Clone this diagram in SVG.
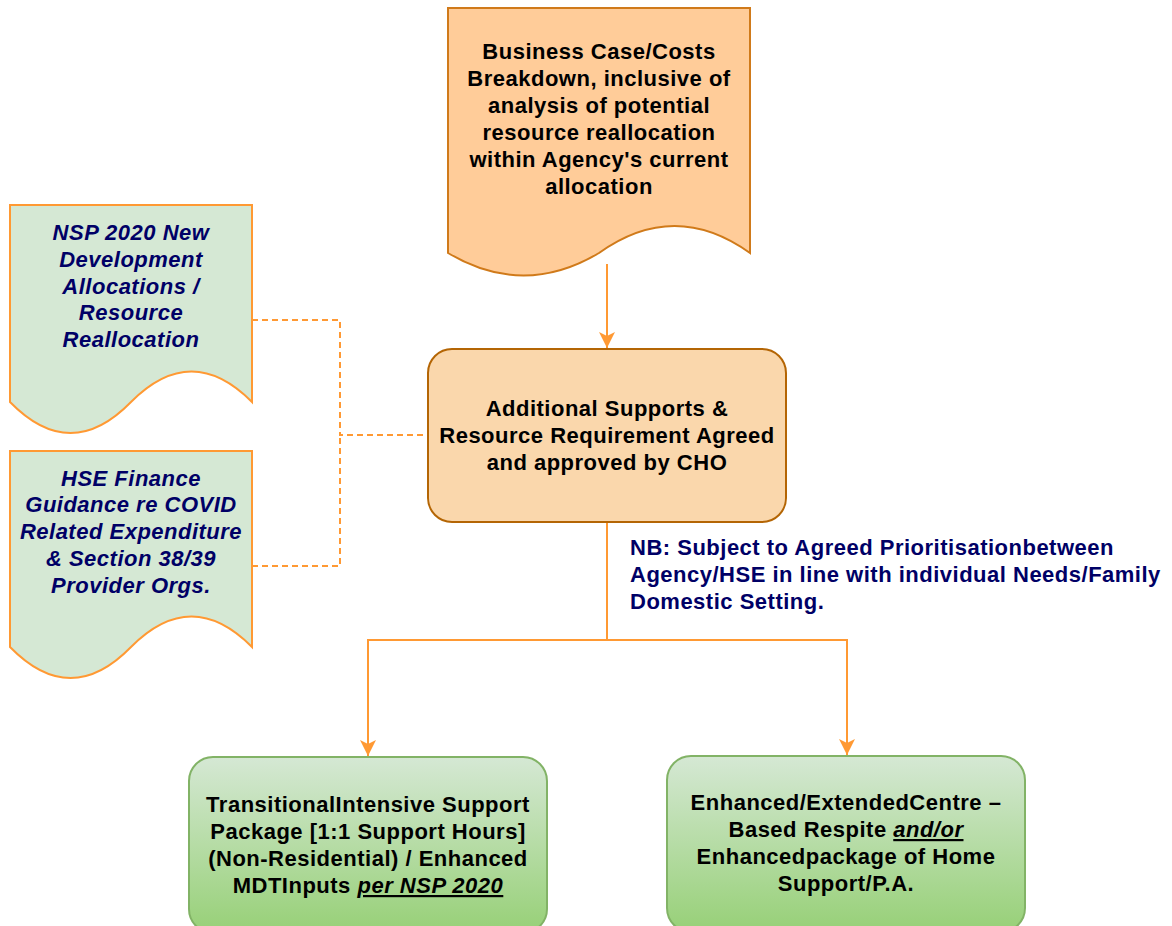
<svg xmlns="http://www.w3.org/2000/svg" width="1172" height="926" viewBox="0 0 1172 926">
<style>
text{font-family:"Liberation Sans",Arial,sans-serif;font-size:22px;letter-spacing:0.5px;font-weight:bold;text-anchor:middle;fill:#000}
.blue{fill:#000066;font-style:italic}
.nb{fill:#000066;text-anchor:start}
.it{font-style:italic;text-decoration:underline}
.conn{fill:none;stroke:#ff9933;stroke-width:2}
.dash{fill:none;stroke:#ff9933;stroke-width:2;stroke-dasharray:6 4}
.gdoc{fill:#d5e8d4;stroke:#ff9933;stroke-width:2}
</style>
<defs>
<linearGradient id="gg" x1="0" y1="0" x2="0" y2="1">
<stop offset="0" stop-color="#d5e8d4"/>
<stop offset="1" stop-color="#97d077"/>
</linearGradient>
<marker id="ah" markerWidth="18" markerHeight="18" refX="16" refY="8" orient="auto" markerUnits="userSpaceOnUse">
<path d="M0,0 L16,8 L0,16 L4,8 Z" fill="#ff9933"/>
</marker>
</defs>
<g id="connectors">
<path class="conn" d="M607,264 L607,348" marker-end="url(#ah)"/>
<path class="conn" d="M607,522 L607,640 L368,640 L368,756" marker-end="url(#ah)"/>
<path class="conn" d="M607,640 L847,640 L847,755" marker-end="url(#ah)"/>
<path class="dash" d="M252,320 L340,320 L340,435 L428,435"/>
<path class="dash" d="M252,566 L340,566 L340,435"/>
</g>
<g id="business-case">
<path d="M448,8 L750,8 L750,253 Q674.5,199 599,253 Q523.5,298 448,253 Z" fill="#ffcc99" stroke="#d07a1a" stroke-width="2"/>
<text x="599" y="59">Business Case/Costs</text>
<text x="599" y="86">Breakdown, inclusive of</text>
<text x="599" y="113">analysis of potential</text>
<text x="599" y="140">resource reallocation</text>
<text x="599" y="167">within Agency's current</text>
<text x="599" y="194">allocation</text>
</g>
<g id="nsp-allocations">
<path class="gdoc" d="M10,205 L252,205 L252,402 Q191.5,341 131,402 Q70.5,464 10,402 Z"/>
<text class="blue" x="131" y="240">NSP 2020 New</text>
<text class="blue" x="131" y="267">Development</text>
<text class="blue" x="131" y="294">Allocations /</text>
<text class="blue" x="131" y="320">Resource</text>
<text class="blue" x="131" y="347">Reallocation</text>
</g>
<g id="hse-finance">
<path class="gdoc" d="M10,451 L252,451 L252,647 Q191.5,586 131,647 Q70.5,709 10,647 Z"/>
<text class="blue" x="131" y="486">HSE Finance</text>
<text class="blue" x="131" y="512">Guidance re COVID</text>
<text class="blue" x="131" y="539">Related Expenditure</text>
<text class="blue" x="131" y="566">&amp; Section 38/39</text>
<text class="blue" x="131" y="593">Provider Orgs.</text>
</g>
<g id="cho-approval">
<rect x="428" y="349" width="358" height="173" rx="24" ry="24" fill="#fad7ac" stroke="#b46504" stroke-width="2"/>
<text x="607" y="416">Additional Supports &amp;</text>
<text x="607" y="443">Resource Requirement Agreed</text>
<text x="607" y="470">and approved by CHO</text>
</g>
<g id="nb-note">
<text class="nb" x="630" y="555">NB: Subject to Agreed Prioritisationbetween</text>
<text class="nb" x="630" y="582">Agency/HSE in line with individual Needs/Family</text>
<text class="nb" x="630" y="609">Domestic Setting.</text>
</g>
<g id="transitional-package">
<rect x="189" y="757" width="358" height="176" rx="24" ry="24" fill="url(#gg)" stroke="#82b366" stroke-width="2"/>
<text x="368" y="812">TransitionalIntensive Support</text>
<text x="368" y="839">Package [1:1 Support Hours]</text>
<text x="368" y="866">(Non-Residential) / Enhanced</text>
<text x="368" y="893">MDTInputs <tspan class="it">per NSP 2020</tspan></text>
</g>
<g id="respite-package">
<rect x="667" y="756" width="358" height="176" rx="24" ry="24" fill="url(#gg)" stroke="#82b366" stroke-width="2"/>
<text x="846" y="810">Enhanced/ExtendedCentre –</text>
<text x="846" y="837">Based Respite <tspan class="it">and/or</tspan></text>
<text x="846" y="864">Enhancedpackage of Home</text>
<text x="846" y="891">Support/P.A.</text>
</g>
</svg>
